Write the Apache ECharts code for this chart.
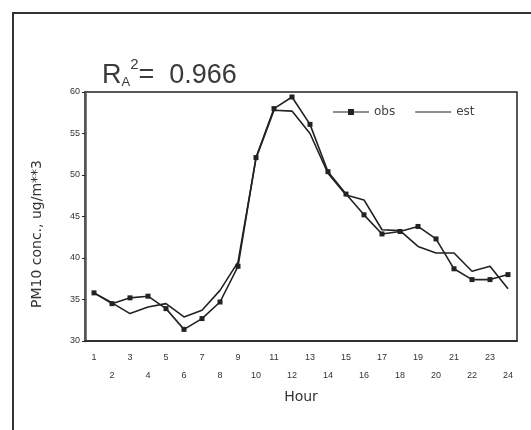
<!DOCTYPE html>
<html>
<head>
<meta charset="utf-8">
<script src="https://cdn.jsdelivr.net/npm/echarts@6/dist/echarts.min.js"></script>
<style>
  html, body { margin: 0; padding: 0; background: #fff; }
  #chart { width: 531px; height: 430px; }
</style>
</head>
<body>
<div id="chart"></div>
<script>
// hourly PM10
var hours = ['1','2','3','4','5','6','7','8','9','10','11','12','13','14','15','16','17','18','19','20','21','22','23','24'];
var obs = [35.8, 34.5, 35.2, 35.4, 33.9, 31.4, 32.7, 34.7, 39.0, 52.1, 58.0, 59.4, 56.1, 50.4, 47.7, 45.2, 42.9, 43.2, 43.8, 42.3, 38.7, 37.4, 37.4, 38.0];
var est = [35.8, 34.6, 33.3, 34.1, 34.5, 32.9, 33.7, 36.1, 39.5, 52.0, 57.8, 57.7, 55.0, 50.2, 47.6, 47.0, 43.4, 43.3, 41.4, 40.6, 40.6, 38.4, 39.0, 36.3];
var yTicks = [30, 35, 40, 45, 50, 55, 60];

var chart = echarts.init(document.getElementById('chart'));
var ink = '#222';
var font = 'Liberation Sans';

chart.setOption({
    backgroundColor: '#fff',
    animation: false,
    title: {
        text: '{r|R}{sub|A}{sup|2}{r|=  0.966}',
        left: 97,
        top: 52,
        textStyle: {
            rich: {
                r: { fontFamily: font, fontWeight: 'normal', fontSize: 27, color: '#3a3a3a', lineHeight: 30, verticalAlign: 'bottom' },
                sub: { fontFamily: font, fontWeight: 'normal', fontSize: 13, color: '#3a3a3a', verticalAlign: 'bottom', lineHeight: 26 },
                sup: { fontFamily: font, fontWeight: 'normal', fontSize: 15, color: '#3a3a3a', verticalAlign: 'top', lineHeight: 32 }
            }
        }
    },
    legend: {
        left: 328,
        top: 101,
        itemWidth: 36,
        itemHeight: 6,
        itemGap: 20,
        textStyle: { color: '#444', fontSize: 12, fontFamily: 'DejaVu Sans' },
        data: [
            { name: 'obs', icon: 'path://M0,4.5 L36,4.5 L36,5.5 L0,5.5 Z M15,2 L21,2 L21,8 L15,8 Z' },
            { name: 'est', icon: 'path://M0,4.5 L36,4.5 L36,5.5 L0,5.5 Z' }
        ]
    },
    grid: {
        left: 85, right: 14, top: 92, bottom: 89,
        show: true, borderColor: ink, borderWidth: 1.5
    },
    graphic: [{
        type: 'rect',
        shape: { x: 13, y: 13, width: 560, height: 460 },
        style: { fill: 'none', stroke: '#333', lineWidth: 2 },
        silent: true
    }, {
        type: 'text',
        x: 37,
        y: 234,
        rotation: Math.PI / 2,
        style: {
            text: 'PM10 conc., ug/m**3',
            fill: '#333',
            font: '14px "DejaVu Sans"',
            align: 'center',
            verticalAlign: 'middle'
        },
        silent: true
    }],
    xAxis: {
        type: 'category',
        data: hours,
        boundaryGap: true,
        name: 'Hour',
        nameLocation: 'middle',
        nameGap: 47,
        nameTextStyle: { color: '#333', fontSize: 14, fontFamily: 'DejaVu Sans' },
        axisLine: { lineStyle: { color: ink, width: 1.5 } },
        axisTick: { alignWithLabel: true, length: 4, lineStyle: { color: ink } },
        axisLabel: {
            interval: 0,
            margin: 8,
            fontSize: 9,
            lineHeight: 18,
            color: '#333',
            fontFamily: font,
            formatter: function (v) {
                return (+v % 2 === 1) ? v : '\n' + v;
            }
        },
        splitLine: { show: false }
    },
    yAxis: {
        type: 'value',
        min: yTicks[0],
        max: yTicks[yTicks.length - 1],
        interval: 5,
        axisLine: { show: true, lineStyle: { color: '#555', width: 2.5 } },
        axisTick: { show: true, length: 3, lineStyle: { color: ink } },
        axisLabel: { fontSize: 9, color: '#333', margin: 5, fontFamily: font },
        splitLine: { show: false }
    },
    series: [{
        name: 'obs',
        type: 'line',
        data: obs,
        symbol: 'rect',
        symbolSize: 5,
        itemStyle: { color: ink },
        lineStyle: { color: ink, width: 1.6 }
    }, {
        name: 'est',
        type: 'line',
        data: est,
        symbol: 'none',
        itemStyle: { color: ink },
        lineStyle: { color: ink, width: 1.6 }
    }]
});
</script>
</body>
</html>
